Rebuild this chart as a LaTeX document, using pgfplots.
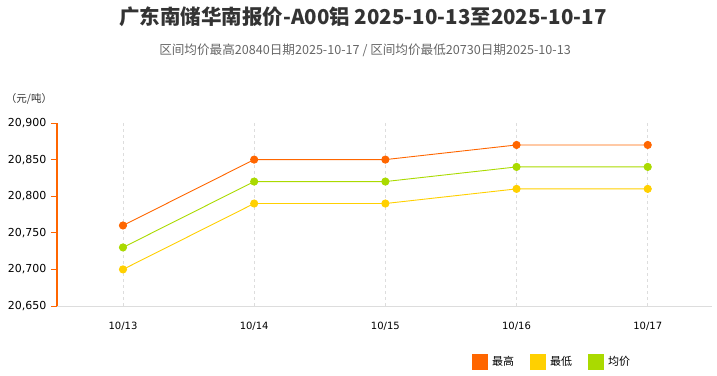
\documentclass[border=0pt]{standalone}
\usepackage{pgfplots}
\pgfplotsset{compat=1.18}
\usepackage{fontspec}
\setmainfont{DejaVu Sans}
\newfontfamily\cjk{Noto Sans CJK SC}
\definecolor{cHigh}{RGB}{255,102,0}
\definecolor{cLow}{RGB}{255,208,0}
\definecolor{cAvg}{RGB}{170,218,0}
\definecolor{titlec}{RGB}{51,51,51}
\definecolor{subc}{RGB}{102,102,102}
\definecolor{gridc}{RGB}{221,221,221}
\begin{document}
\begin{tikzpicture}
\useasboundingbox (0bp,0bp) rectangle (717bp,376bp);
\node[anchor=center,text=titlec,font={\cjk\bfseries\fontsize{20.5bp}{22bp}\selectfont}] at (363bp,359bp) {广东南储华南报价-A00铝 2025-10-13至2025-10-17};
\node[anchor=center,text=subc,font={\cjk\fontsize{12.6bp}{14bp}\selectfont}] at (365bp,326bp) {区间均价最高20840日期2025-10-17 / 区间均价最低20730日期2025-10-13};
\node[anchor=center,text=titlec,font={\cjk\fontsize{10.5bp}{12bp}\selectfont}] at (29bp,277bp) {（元/吨）};
\begin{axis}[
  at={(57bp,70bp)}, anchor=south west,
  scale only axis, width=655bp, height=183bp,
  xmin=-0.503, xmax=4.49, ymin=20650, ymax=20900,
  xtick={0,1,2,3,4},
  xticklabels={10/13,10/14,10/15,10/16,10/17},
  ytick={20650,20700,20750,20800,20850,20900},
  yticklabels={20{,}650,20{,}700,20{,}750,20{,}800,20{,}850,20{,}900},
  scaled y ticks=false,
  yticklabel style={font=\fontsize{11bp}{12bp}\selectfont, text=black, xshift=-1bp},
  xticklabel style={font=\fontsize{10bp}{12bp}\selectfont, text=black, yshift=-7bp},
  axis x line*=bottom, axis y line*=left,
  x axis line style={draw=gridc, -},
  y axis line style={draw=cHigh, line width=1.5bp, -},
  xtick style={draw=none},
  ytick style={draw=cHigh, line width=0.8bp},
  tick align=outside, major tick length=6bp,
  xmajorgrids, grid style={draw=gridc, dash pattern=on 3bp off 3bp, line width=0.6bp},
  legend style={at={(0.883,-0.306)}, anchor=east, draw=none, fill=none,
    font={\cjk\fontsize{11bp}{12bp}\selectfont}, legend columns=3,
    /tikz/every even column/.append style={column sep=14bp},
    /tikz/every odd column/.append style={column sep=2bp}},
  legend image code/.code={\fill[#1,draw=none] (0bp,-8bp) rectangle (16bp,8bp);},
  every axis plot/.append style={line width=0.9bp, mark=*, mark size=3.6bp},
]
\addplot[color=cHigh, mark options={fill=cHigh, draw=cHigh}] coordinates {(0,20760) (1,20850) (2,20850) (3,20870) (4,20870)};
\addlegendentry{最高}
\addplot[color=cLow, mark options={fill=cLow, draw=cLow}] coordinates {(0,20700) (1,20790) (2,20790) (3,20810) (4,20810)};
\addlegendentry{最低}
\addplot[color=cAvg, mark options={fill=cAvg, draw=cAvg}] coordinates {(0,20730) (1,20820) (2,20820) (3,20840) (4,20840)};
\addlegendentry{均价}
\end{axis}
\end{tikzpicture}
\end{document}
